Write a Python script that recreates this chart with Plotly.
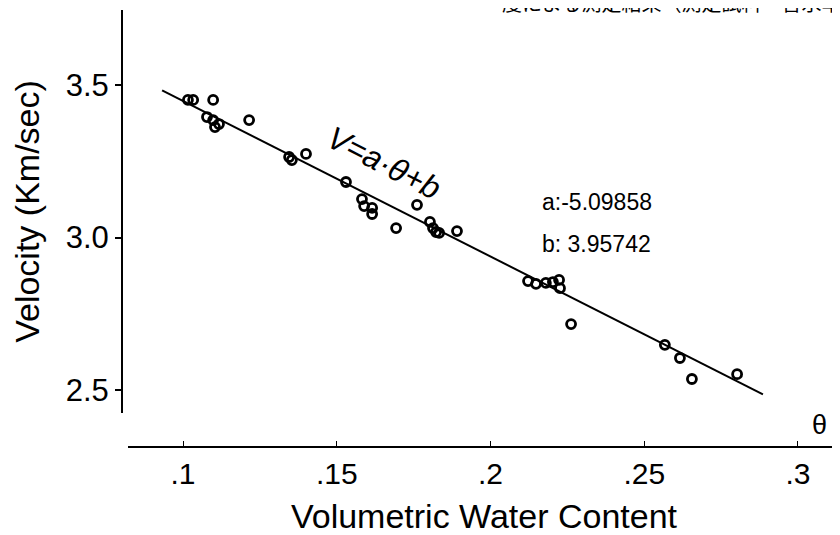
import plotly.graph_objects as go

# ---- data ----
theta = [0.1016, 0.1033, 0.1098, 0.1078, 0.1098, 0.1117, 0.1104, 0.1215,
         0.1345, 0.1354, 0.1400, 0.1530, 0.1582, 0.1589, 0.1615, 0.1615,
         0.1693, 0.1761, 0.1803, 0.1813, 0.1823, 0.1833, 0.1891,
         0.2122, 0.2148, 0.2180, 0.2203, 0.2223, 0.2226, 0.2262,
         0.2567, 0.2616, 0.2655, 0.2802]
velocity = [3.451, 3.451, 3.451, 3.395, 3.385, 3.372, 3.362, 3.385,
            3.264, 3.254, 3.274, 3.182, 3.126, 3.103, 3.097, 3.077,
            3.031, 3.107, 3.051, 3.031, 3.018, 3.015, 3.021,
            2.857, 2.848, 2.851, 2.854, 2.861, 2.834, 2.716,
            2.648, 2.605, 2.536, 2.552]

coef_a = -5.09858
coef_b = 3.95742
fit_theta = [0.0932, 0.2886]
fit_v = [coef_a * t + coef_b for t in fit_theta]

x_ticks = [0.1, 0.15, 0.2, 0.25, 0.3]
x_tick_labels = [".1", ".15", ".2", ".25", ".3"]
y_ticks = [2.5, 3.0, 3.5]
y_tick_labels = ["2.5", "3.0", "3.5"]

FONT = "Liberation Sans, Arial, sans-serif"

fig = go.Figure()
fig.add_trace(go.Scatter(
    x=fit_theta, y=fit_v, mode="lines",
    line=dict(color="black", width=2), showlegend=False, hoverinfo="skip"))
fig.add_trace(go.Scatter(
    x=theta, y=velocity, mode="markers",
    marker=dict(symbol="circle-open", size=9, color="black",
                line=dict(color="black", width=2.8)),
    showlegend=False))

# the page has an 8 px body margin, so the figure is 8 px smaller each way
fig.update_layout(
    width=832, height=527,
    margin=dict(l=114, r=0, t=2, b=88),
    paper_bgcolor="white", plot_bgcolor="white",
    font=dict(family=FONT, color="black"),
    xaxis=dict(
        domain=[0.00836, 1], range=[0.08211, 0.31366],
        anchor="free", position=0,
        showline=True, linecolor="black", linewidth=2,
        ticks="inside", ticklen=5, tickwidth=1, tickcolor="black",
        tickvals=x_ticks, ticktext=x_tick_labels,
        tickfont=dict(size=30, family=FONT),
        showgrid=False, zeroline=False,
        title=dict(text="Volumetric Water Content",
                   font=dict(size=34, family=FONT), standoff=17),
    ),
    yaxis=dict(
        domain=[0.0778, 1], range=[2.4246, 3.7459],
        anchor="free", position=0,
        showline=True, linecolor="black", linewidth=2,
        ticks="outside", ticklen=6, tickwidth=1.5, tickcolor="black",
        tickvals=y_ticks, ticktext=y_tick_labels,
        tickfont=dict(size=31, family=FONT),
        showgrid=False, zeroline=False,
        title=dict(text="Velocity (Km/sec)",
                   font=dict(size=34, family=FONT), standoff=20),
    ),
)

fig.add_annotation(x=0.1655, y=3.245, xref="x", yref="y",
                   text="<i>V=a·θ+b</i>", showarrow=False, textangle=27,
                   font=dict(size=32, family=FONT, color="black"))
fig.add_annotation(x=0.2345, y=3.116, xref="x", yref="y",
                   text=f"a:{coef_a:.5f}", showarrow=False,
                   font=dict(size=23, family=FONT, color="black"))
fig.add_annotation(x=0.2345, y=2.979, xref="x", yref="y",
                   text=f"b: {coef_b:.5f}", showarrow=False,
                   font=dict(size=23, family=FONT, color="black"))
fig.add_annotation(x=0.985, y=0.05, xref="paper", yref="paper",
                   text="θ", showarrow=False, xanchor="right", yanchor="middle",
                   font=dict(size=27, family=FONT, color="black"))
fig.add_annotation(x=378 / 718, y=1 + 8 / 437, xref="paper", yref="paper",
                   text="度による測定結果（測定試料・含水率",
                   showarrow=False, xanchor="left", yanchor="middle",
                   font=dict(size=20, family="Noto Sans CJK JP", color="black"))

fig.write_html("out.html")
